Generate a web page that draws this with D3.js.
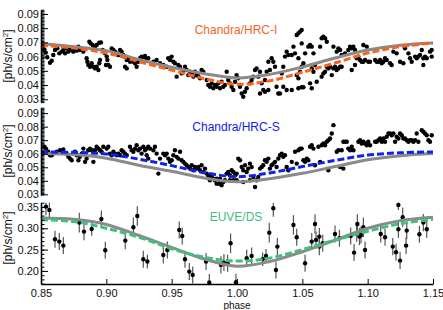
<!DOCTYPE html>
<head>
  <title>Light curves by phase</title>
  <style>
    body { margin: 0; background: #fff; }
    text { font-family: "Liberation Sans", Arial, sans-serif; }
  </style>
</head>
<body>
<script src="https://cdn.jsdelivr.net/npm/d3@7"></script>
<script>
// model phase grid, shared by the three panels
var modelPhase = [0.85, 0.875, 0.90, 0.925, 0.95, 0.975, 1.00, 1.025, 1.05, 1.075, 1.10, 1.125, 1.15];

// Chandra/HRC-I
var hrciGray   = [0.069, 0.067, 0.0642, 0.058, 0.0525, 0.048, 0.045, 0.0475, 0.0527, 0.059, 0.0646, 0.068, 0.0696];
var hrciOrange = [0.068, 0.066, 0.0625, 0.0565, 0.0505, 0.0445, 0.0405, 0.043, 0.049, 0.0555, 0.0625, 0.067, 0.0696];
var hrciPts = [
  [0.8526,0.0651],[0.8536,0.0628],[0.8548,0.0595],[0.8569,0.0557],[0.8582,0.0571],[0.8594,0.0611],[0.8607,0.0646],
  [0.8625,0.0658],[0.8640,0.0623],[0.8658,0.0635],[0.8671,0.0646],[0.8684,0.0623],[0.8696,0.0658],[0.8709,0.0635],
  [0.8722,0.0646],[0.8735,0.0651],[0.8747,0.0635],[0.8760,0.0658],[0.8773,0.0642],[0.8786,0.0670],[0.8798,0.0646],
  [0.8811,0.0658],[0.8824,0.0635],[0.8849,0.0588],[0.8855,0.0564],[0.8862,0.0541],[0.8875,0.0529],[0.8888,0.0553],
  [0.8901,0.0529],[0.8913,0.0517],[0.8926,0.0529],[0.8939,0.0506],[0.8946,0.0553],[0.8952,0.0576],[0.8870,0.0705],
  [0.8880,0.0693],[0.8895,0.0682],[0.8913,0.0670],[0.8926,0.0682],[0.8946,0.0698],[0.8959,0.0700],[0.8972,0.0646],
  [0.8990,0.0623],[0.9003,0.0600],[0.9008,0.0576],[0.8997,0.0541],[0.9015,0.0541],[0.9028,0.0529],[0.9041,0.0658],
  [0.9054,0.0646],[0.9066,0.0635],[0.9079,0.0623],[0.9092,0.0611],[0.9105,0.0646],[0.9117,0.0635],[0.9130,0.0611],
  [0.9143,0.0600],[0.9156,0.0576],[0.9168,0.0588],[0.9181,0.0564],[0.9194,0.0576],[0.9207,0.0564],[0.9219,0.0553],
  [0.9232,0.0529],[0.9245,0.0564],[0.9258,0.0588],[0.9270,0.0600],[0.9283,0.0595],[0.9296,0.0604],[0.9309,0.0581],
  [0.9321,0.0588],[0.9143,0.0529],[0.9156,0.0517],
  [0.9360,0.0564],[0.9385,0.0576],[0.9411,0.0553],[0.9436,0.0541],[0.9462,0.0529],[0.9474,0.0588],[0.9487,0.0576],
  [0.9500,0.0600],[0.9513,0.0564],[0.9525,0.0553],[0.9538,0.0459],[0.9551,0.0541],[0.9564,0.0529],[0.9576,0.0482],
  [0.9589,0.0494],[0.9602,0.0529],[0.9615,0.0506],[0.9627,0.0470],[0.9640,0.0494],[0.9653,0.0482],[0.9666,0.0459],
  [0.9678,0.0494],[0.9691,0.0470],[0.9704,0.0463],[0.9717,0.0447],[0.9729,0.0506],[0.9742,0.0494],[0.9768,0.0435],
  [0.9780,0.0400],[0.9793,0.0388],[0.9806,0.0412],[0.9819,0.0377],[0.9831,0.0400],[0.9844,0.0388],[0.9857,0.0412],
  [0.9870,0.0377],[0.9882,0.0423],[0.9895,0.0388],[0.9908,0.0400],[0.9921,0.0494],[0.9933,0.0435],[0.9946,0.0412],
  [0.9959,0.0388],[0.9972,0.0365],[0.9985,0.0423],[0.9997,0.0470],[1.0010,0.0447],[1.0023,0.0388],[1.0036,0.0341],
  [1.0048,0.0318],[1.0061,0.0353],[1.0074,0.0377],[1.0099,0.0412],[1.0112,0.0435],[1.0125,0.0459],[1.0138,0.0506],
  [1.0150,0.0517],[1.0163,0.0459],[1.0176,0.0494],[1.0189,0.0412],[1.0201,0.0365],[1.0214,0.0435],[1.0227,0.0494],
  [1.0240,0.0564],[1.0252,0.0506],[1.0265,0.0588],[1.0278,0.0564],[1.0291,0.0529],[1.0303,0.0388],[1.0316,0.0341],
  [1.0329,0.0341],[1.0342,0.0482],[1.0354,0.0529],[1.0367,0.0600],[1.0380,0.0635],[1.0393,0.0611],[1.0354,0.0388],
  [1.0380,0.0365],[1.0176,0.0341],[1.0214,0.0353],[1.0240,0.0365],
  [1.0419,0.0611],[1.0432,0.0670],[1.0444,0.0623],[1.0457,0.0752],[1.0470,0.0764],[1.0483,0.0776],[1.0495,0.0787],
  [1.0495,0.0693],[1.0470,0.0588],[1.0457,0.0470],[1.0470,0.0447],[1.0483,0.0494],[1.0495,0.0529],[1.0508,0.0553],
  [1.0521,0.0623],[1.0546,0.0670],[1.0559,0.0682],[1.0572,0.0670],[1.0585,0.0623],[1.0572,0.0517],[1.0585,0.0494],
  [1.0597,0.0541],[1.0610,0.0423],[1.0559,0.0412],[1.0572,0.0377],[1.0636,0.0670],[1.0648,0.0729],[1.0661,0.0740],
  [1.0674,0.0729],[1.0687,0.0705],[1.0648,0.0459],[1.0661,0.0482],[1.0674,0.0494],[1.0687,0.0529],[1.0699,0.0517],
  [1.0712,0.0529],[1.0725,0.0470],[1.0738,0.0517],[1.0750,0.0529],[1.0763,0.0506],[1.0776,0.0517],[1.0789,0.0529],
  [1.0801,0.0529],[1.0738,0.0670],[1.0763,0.0635],[1.0776,0.0658],[1.0789,0.0646],[1.0801,0.0611],[1.0827,0.0623],
  [1.0852,0.0646],[1.0865,0.0670],[1.0878,0.0658],[1.0891,0.0670],[1.0903,0.0646],[1.0878,0.0506],[1.0903,0.0541],
  [1.0916,0.0588],[1.0929,0.0600],[1.0942,0.0576],[1.0954,0.0564],[1.0967,0.0564],[1.0980,0.0576],[1.0967,0.0682],
  [1.0993,0.0670],[1.1005,0.0564],[1.1018,0.0564],[1.1057,0.0576],[1.1069,0.0564],[1.1082,0.0564],[1.1095,0.0576],
  [1.1108,0.0553],[1.1120,0.0564],[1.1133,0.0588],[1.1146,0.0576],[1.1171,0.0553],[1.1184,0.0541],[1.1197,0.0635],
  [1.1222,0.0623],[1.1248,0.0564],[1.1273,0.0553],[1.1286,0.0658],[1.1312,0.0623],[1.1324,0.0588],[1.1337,0.0564],
  [1.1363,0.0600],[1.1375,0.0588],[1.1388,0.0600],[1.1401,0.0611],[1.1414,0.0646],[1.1426,0.0588],[1.1439,0.0600],
  [1.1426,0.0541],[1.1452,0.0588],[1.1477,0.0635],[1.1490,0.0646],[1.1490,0.0600],[1.0419,0.0365],[1.0470,0.0377],
  [1.0495,0.0384],[1.0508,0.0384]
];

// Chandra/HRC-S
var hrcsGray = [0.0602, 0.0594, 0.0567, 0.0515, 0.0470, 0.0420, 0.0392, 0.0415, 0.0455, 0.0505, 0.0555, 0.0585, 0.0601];
var hrcsBlue = [0.0612, 0.0610, 0.0598, 0.0560, 0.0512, 0.0460, 0.0430, 0.0458, 0.0505, 0.0550, 0.0590, 0.0607, 0.0613];
var hrcsPts = [
  [0.8526,0.0651],[0.8538,0.0638],[0.8556,0.0614],[0.8569,0.0589],[0.8582,0.0589],[0.8594,0.0601],[0.8620,0.0614],
  [0.8645,0.0626],[0.8658,0.0621],[0.8671,0.0631],[0.8696,0.0601],[0.8709,0.0577],[0.8722,0.0564],[0.8735,0.0552],
  [0.8747,0.0601],[0.8760,0.0614],[0.8773,0.0589],[0.8786,0.0552],[0.8798,0.0577],[0.8811,0.0601],[0.8824,0.0638],
  [0.8837,0.0540],[0.8849,0.0564],[0.8862,0.0626],[0.8875,0.0638],[0.8888,0.0626],[0.8901,0.0540],[0.8913,0.0626],
  [0.8926,0.0651],[0.8939,0.0638],[0.8952,0.0626],[0.8964,0.0614],[0.8977,0.0651],[0.9003,0.0638],[0.9015,0.0651],
  [0.9028,0.0601],[0.9041,0.0589],[0.9054,0.0614],[0.9066,0.0601],[0.9079,0.0589],[0.9092,0.0601],[0.9105,0.0589],
  [0.9117,0.0626],[0.9130,0.0614],[0.9143,0.0601],[0.9156,0.0589],[0.9181,0.0651],[0.9194,0.0626],[0.9207,0.0614],
  [0.9219,0.0638],[0.9232,0.0663],[0.9245,0.0626],[0.9258,0.0638],[0.9270,0.0601],[0.9283,0.0651],[0.9296,0.0626],
  [0.9309,0.0638],[0.9321,0.0651],[0.9309,0.0589],[0.9321,0.0564],
  [0.9334,0.0638],[0.9360,0.0626],[0.9372,0.0651],[0.9385,0.0601],[0.9398,0.0453],[0.9411,0.0564],[0.9436,0.0601],
  [0.9449,0.0589],[0.9462,0.0601],[0.9474,0.0564],[0.9487,0.0540],[0.9500,0.0552],[0.9513,0.0589],[0.9525,0.0626],
  [0.9538,0.0577],[0.9551,0.0564],[0.9564,0.0614],[0.9576,0.0552],[0.9589,0.0540],[0.9602,0.0527],[0.9615,0.0515],
  [0.9627,0.0502],[0.9640,0.0490],[0.9653,0.0515],[0.9666,0.0478],[0.9678,0.0502],[0.9691,0.0490],[0.9704,0.0502],
  [0.9717,0.0478],[0.9729,0.0515],[0.9742,0.0465],[0.9755,0.0490],[0.9768,0.0453],[0.9780,0.0428],[0.9793,0.0441],
  [0.9806,0.0428],[0.9819,0.0416],[0.9831,0.0404],[0.9844,0.0416],[0.9857,0.0379],[0.9870,0.0391],[0.9882,0.0367],
  [0.9895,0.0391],[0.9908,0.0404],[0.9921,0.0453],[0.9933,0.0465],[0.9946,0.0441],[0.9959,0.0478],[0.9972,0.0465],
  [0.9985,0.0441],[0.9997,0.0453],[1.0010,0.0564],[1.0023,0.0552],[1.0036,0.0502],[1.0048,0.0478],[1.0061,0.0515],
  [1.0074,0.0465],[1.0086,0.0490],[1.0099,0.0527],[1.0112,0.0502],[1.0125,0.0428],[1.0138,0.0354],[1.0150,0.0404],
  [1.0163,0.0428],[1.0176,0.0490],[1.0189,0.0502],[1.0201,0.0515],[1.0214,0.0552],[1.0227,0.0540],[1.0240,0.0564],
  [1.0252,0.0490],[1.0265,0.0515],[1.0278,0.0527],[1.0291,0.0540],[1.0303,0.0502],[1.0316,0.0564],[1.0329,0.0589],
  [1.0342,0.0601],[1.0354,0.0577],[1.0367,0.0589],[1.0380,0.0502],[1.0393,0.0478],[0.9793,0.0404],[0.9844,0.0379],
  [0.9870,0.0416],[0.9946,0.0404],[0.9972,0.0404],[0.9997,0.0404],[1.0048,0.0391],[1.0099,0.0404],
  [1.0419,0.0540],[1.0444,0.0614],[1.0457,0.0527],[1.0470,0.0626],[1.0483,0.0638],[1.0495,0.0638],[1.0508,0.0552],
  [1.0521,0.0540],[1.0534,0.0564],[1.0546,0.0552],[1.0559,0.0651],[1.0572,0.0663],[1.0585,0.0638],[1.0597,0.0515],
  [1.0623,0.0651],[1.0636,0.0540],[1.0648,0.0663],[1.0661,0.0675],[1.0674,0.0663],[1.0687,0.0688],[1.0699,0.0700],
  [1.0699,0.0478],[1.0712,0.0712],[1.0725,0.0749],[1.0738,0.0811],[1.0763,0.0614],[1.0776,0.0626],[1.0789,0.0502],
  [1.0801,0.0626],[1.0814,0.0490],[1.0814,0.0688],[1.0827,0.0688],[1.0840,0.0688],[1.0852,0.0638],[1.0865,0.0626],
  [1.0878,0.0651],[1.0891,0.0626],[1.0929,0.0688],[1.0942,0.0700],[1.0954,0.0675],[1.0967,0.0688],[1.0980,0.0675],
  [1.0993,0.0663],[1.1005,0.0688],[1.1018,0.0663],[1.1057,0.0688],[1.1069,0.0688],[1.1082,0.0700],[1.1095,0.0712],
  [1.1108,0.0688],[1.1120,0.0712],[1.1133,0.0688],[1.1146,0.0725],[1.1159,0.0749],[1.1171,0.0749],[1.1184,0.0737],
  [1.1197,0.0749],[1.1210,0.0688],[1.1222,0.0725],[1.1235,0.0712],[1.1248,0.0749],[1.1261,0.0737],[1.1273,0.0712],
  [1.1286,0.0712],[1.1299,0.0700],[1.1312,0.0688],[1.1324,0.0700],[1.1337,0.0700],[1.1350,0.0688],[1.1363,0.0700],
  [1.1375,0.0749],[1.1388,0.0688],[1.1414,0.0774],[1.1426,0.0762],[1.1439,0.0749],[1.1452,0.0737],[1.1465,0.0700],
  [1.1477,0.0688],[1.1490,0.0737]
];

// EUVE/DS : phase, rate, error
var euveGray  = [0.324, 0.321, 0.309, 0.283, 0.255, 0.228, 0.211, 0.222, 0.245, 0.272, 0.300, 0.318, 0.326];
var euveGreen = [0.320, 0.316, 0.300, 0.279, 0.252, 0.232, 0.223, 0.230, 0.250, 0.272, 0.293, 0.311, 0.321];
var euvePts = [
  [0.8538,0.3508,0.02],[0.8564,0.343,0.02],[0.8607,0.2742,0.02],[0.8640,0.2688,0.02],[0.8671,0.2594,0.02],
  [0.8793,0.3133,0.023],[0.8829,0.2922,0.02],[0.8888,0.2984,0.016],[0.8962,0.3219,0.02],[0.8992,0.2484,0.02],
  [0.9145,0.2711,0.02],[0.9207,0.3023,0.023],[0.9237,0.3289,0.023],[0.9283,0.2273,0.02],[0.9314,0.2219,0.016],
  [0.9436,0.2375,0.02],[0.9467,0.2492,0.02],[0.9558,0.2961,0.02],[0.9581,0.282,0.02],[0.9602,0.2273,0.02],
  [0.9635,0.1984,0.02],[0.9661,0.1906,0.02],[0.9763,0.2219,0.02],[0.9788,0.1727,0.02],[0.9877,0.2141,0.02],
  [0.9900,0.2195,0.02],[0.9928,0.218,0.02],[0.9951,0.2648,0.023],[0.9992,0.1734,0.02],[1.0074,0.2297,0.02],
  [1.0112,0.2352,0.02],[1.0196,0.2273,0.016],[1.0222,0.2352,0.016],[1.0247,0.2898,0.023],[1.0278,0.3469,0.02],
  [1.0298,0.2023,0.02],[1.0309,0.257,0.02],
  [1.0432,0.3078,0.023],[1.0457,0.2789,0.02],[1.0521,0.218,0.02],[1.0572,0.2688,0.02],[1.0597,0.3102,0.023],
  [1.0605,0.2727,0.02],[1.0630,0.2805,0.02],[1.0630,0.257,0.02],[1.0656,0.2648,0.02],[1.0750,0.2867,0.02],
  [1.0784,0.2766,0.02],[1.0870,0.282,0.02],[1.0896,0.243,0.02],[1.0921,0.3102,0.023],[1.0916,0.2883,0.02],
  [1.0937,0.2805,0.02],[1.0949,0.2844,0.02],[1.0967,0.3023,0.023],[1.0980,0.2492,0.02],[1.1100,0.2867,0.02],
  [1.1133,0.2789,0.02],[1.1192,0.257,0.02],[1.1217,0.2438,0.02],[1.1235,0.3547,0.012],[1.1248,0.2242,0.02],
  [1.1268,0.3258,0.023],[1.1235,0.2977,0.02],[1.1299,0.2945,0.02],[1.1294,0.2594,0.02],[1.1396,0.2859,0.02],
  [1.1426,0.3133,0.02],[1.1452,0.2977,0.02]
];

var yTicksHrc = [0.03, 0.04, 0.05, 0.06, 0.07, 0.08, 0.09];
var yTicksEuve = [0.20, 0.25, 0.30, 0.35];
var xTicks = [0.85, 0.90, 0.95, 1.00, 1.05, 1.10, 1.15];

var svg = d3.select("body").append("svg")
    .attr("width", 443)
    .attr("height", 310);

var x = d3.scaleLinear().domain([0.85, 1.15]).range([41, 433]);

var panels = [
  { pts: hrciPts, gray: hrciGray, model: hrciOrange, color: "#f8641e", title: "Chandra/HRC-I",
    y: d3.scaleLinear().domain([0.028, 0.093]).range([102.1, 9.7]), ticks: yTicksHrc, minor: 0.001,
    titleY: 34, labelY: 56 },
  { pts: hrcsPts, gray: hrcsGray, model: hrcsBlue, color: "#1020f0", title: "Chandra/HRC-S",
    y: d3.scaleLinear().domain([0.0295, 0.094]).range([195, 107.7]), ticks: yTicksHrc, minor: 0.001,
    titleY: 131, labelY: 151 },
  { pts: euvePts, gray: euveGray, model: euveGreen, color: "#3fbf7f", title: "EUVE/DS",
    y: d3.scaleLinear().domain([0.17, 0.36]).range([283.7, 202.7]), ticks: yTicksEuve, minor: 0.01,
    titleY: 221, labelY: 238 }
];

panels.forEach(function(p, i) {
  var g = svg.append("g");
  var y = p.y;
  var dom = y.domain();

  // error bars (EUVE only)
  if (i == 2) {
    g.selectAll(".err").data(p.pts).enter().append("line")
        .attr("x1", function(d) { return x(d[0]); })
        .attr("x2", function(d) { return x(d[0]); })
        .attr("y1", function(d) { return y(Math.min(d[1] + d[2], dom[1])); })
        .attr("y2", function(d) { return y(Math.max(d[1] - d[2], dom[0])); })
        .attr("stroke", "#555")
        .attr("stroke-width", 1.2);
  }

  g.selectAll(".pt").data(p.pts).enter().append("circle")
      .attr("cx", function(d) { return x(d[0]); })
      .attr("cy", function(d) { return y(d[1]); })
      .attr("r", 2.2)
      .attr("fill", "#000");

  var line = d3.line()
      .x(function(d, j) { return x(modelPhase[j]); })
      .y(function(d) { return y(d); })
      .curve(d3.curveCatmullRom);

  g.append("path").attr("d", line(p.gray))
      .attr("fill", "none").attr("stroke", "#8a8a8a").attr("stroke-width", 3);
  g.append("path").attr("d", line(p.model))
      .attr("fill", "none").attr("stroke", p.color).attr("stroke-width", 3)
      .attr("stroke-dasharray", "7,3");

  // left axis with dense minor ticks, ticks pointing inwards
  var minorTicks = d3.range(Math.ceil(dom[0] / p.minor), Math.floor(dom[1] / p.minor) + 1)
      .map(function(k) { return k * p.minor; });
  g.append("g").attr("transform", "translate(41,0)")
      .call(d3.axisLeft(y).tickValues(minorTicks).tickSize(-3.5).tickFormat("").tickSizeOuter(0));
  g.append("g").attr("transform", "translate(41,0)")
      .call(d3.axisLeft(y).tickValues(p.ticks).tickSize(-7).tickPadding(2).tickSizeOuter(0)
          .tickFormat(d3.format(".2f")))
      .selectAll("text").style("font-size", "11px").attr("fill", "#111");

  g.append("text")
      .attr("x", 236)
      .attr("y", p.titleY)
      .attr("text-anchor", "middle")
      .attr("fill", p.color)
      .style("font-size", "12px")
      .text(p.title);

  var lab = g.append("text")
      .attr("transform", "translate(12," + p.labelY + ") rotate(-90)")
      .attr("text-anchor", "middle")
      .style("font-size", "12px")
      .attr("fill", "#111");
  lab.append("tspan").text("[ph/s/cm");
  lab.append("tspan").attr("dy", -4).style("font-size", "8px").text("2");
  lab.append("tspan").attr("dy", 4).text("]");
});

svg.selectAll(".domain").attr("stroke", "#000").attr("stroke-width", 1.3);

// bottom axis
var bottom = svg.append("g").attr("transform", "translate(0,284)")
    .call(d3.axisBottom(x).tickValues(xTicks).tickSize(-5).tickPadding(5).tickSizeOuter(0)
        .tickFormat(d3.format(".2f")));
bottom.selectAll("text").style("font-size", "11px").attr("fill", "#111");
bottom.select(".domain").attr("stroke-width", 1.3);

svg.append("text")
    .attr("x", 237)
    .attr("y", 309)
    .attr("text-anchor", "middle")
    .style("font-size", "10px")
    .attr("fill", "#111")
    .text("phase");
</script>
</body>
